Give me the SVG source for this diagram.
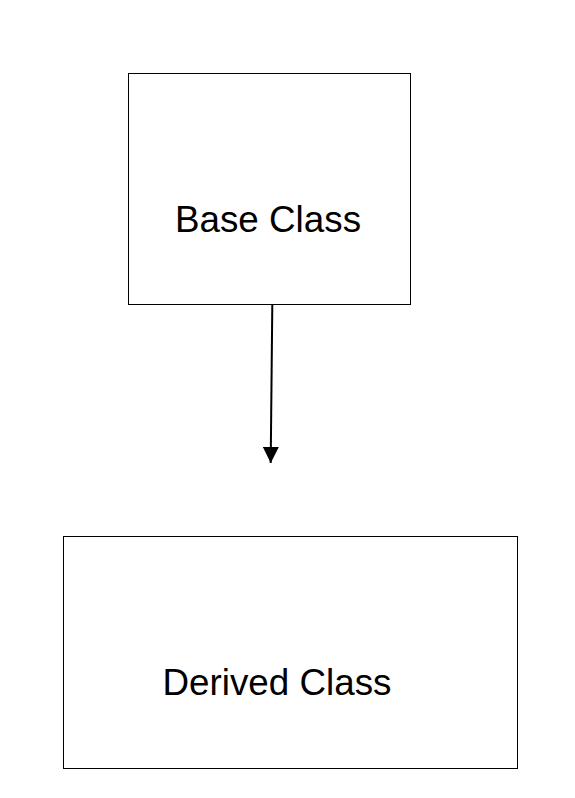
<svg xmlns="http://www.w3.org/2000/svg" width="575" height="798" viewBox="0 0 575 798">
<style>
.box{fill:#fff;stroke:#000;stroke-width:1}
.lbl{font-family:"Liberation Sans",Arial,sans-serif;font-size:36.8px;fill:#000;text-anchor:middle}
.conn{stroke:#000;stroke-width:2;fill:none}
</style>
<defs>
<marker id="arr" markerUnits="userSpaceOnUse" markerWidth="16" markerHeight="16" refX="16" refY="8" orient="auto" viewBox="0 0 16 16">
<path d="M0,0 L16,8 L0,16 Z" fill="#000"/>
</marker>
</defs>
<rect width="575" height="798" fill="#fff"/>
<g id="base-class">
<rect class="box" x="128.5" y="73.5" width="282" height="231"/>
<text class="lbl" x="268" y="231.5">Base Class</text>
</g>
<g id="derived-class">
<rect class="box" x="63.5" y="536.5" width="454" height="232"/>
<text class="lbl" x="277" y="695">Derived Class</text>
</g>
<g id="connectors">
<line class="conn" x1="272.3" y1="305" x2="270.7" y2="463" marker-end="url(#arr)"/>
</g>
</svg>
